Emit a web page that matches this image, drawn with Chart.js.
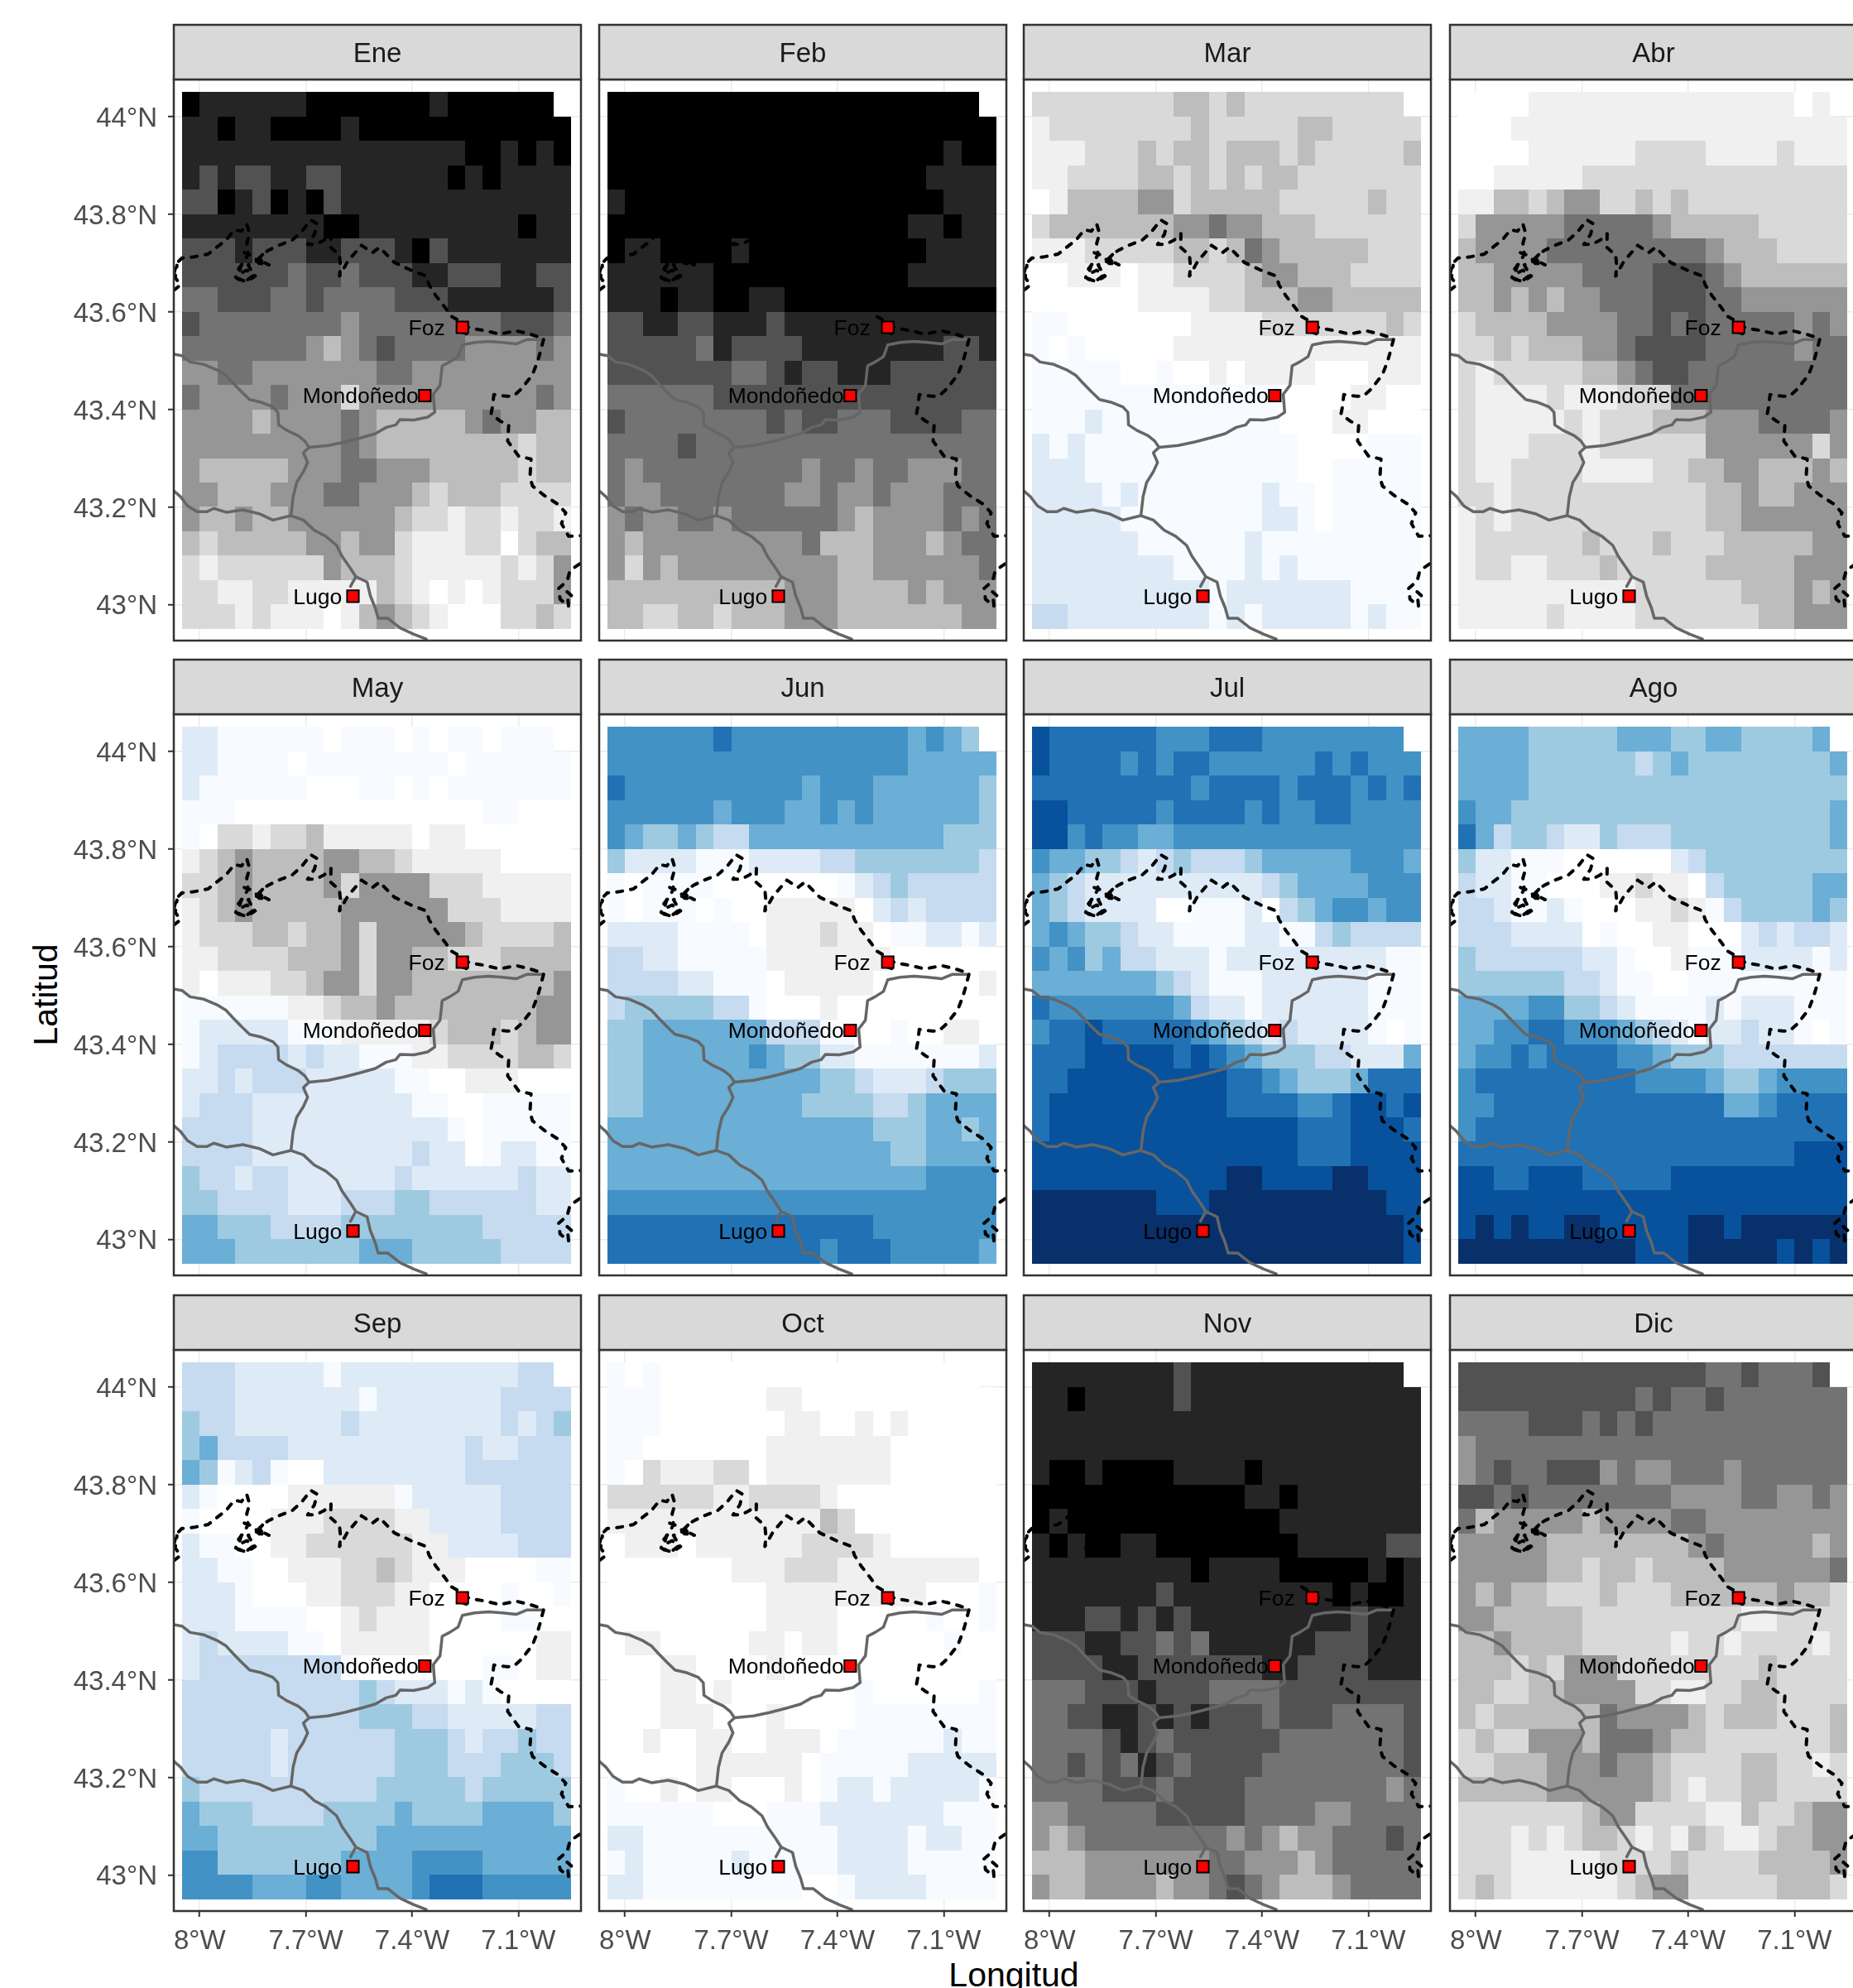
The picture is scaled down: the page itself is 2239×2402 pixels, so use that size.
<!DOCTYPE html>
<html>
<head>
<meta charset="utf-8">
<title>Mapas mensuales</title>
<script src="https://cdn.jsdelivr.net/npm/chart.js@4"></script>
<style>
  html,body{margin:0;padding:0;background:#fff;}
  body{width:2239px;height:2402px;overflow:hidden;position:relative;font-family:"Liberation Sans",Arial,sans-serif;}
  canvas{position:absolute;}
  .eje{position:absolute;font-size:41px;color:#000;white-space:nowrap;line-height:1;}
  #ejeX{left:1225px;top:2366px;transform:translateX(-50%);}
  #ejeY{left:55px;top:1202px;transform:translate(-50%,-50%) rotate(-90deg);}
</style>
</head>
<body>
<div class="eje" id="ejeX">Longitud</div>
<div class="eje" id="ejeY">Latitud</div>
<script>
// niveles de color: 0-8 grises, a-i azules, "." sin dato
const levelKeys = ['0','1','2','3','4','5','6','7','8','a','b','c','d','e','f','g','h','i'];
const levelColors = ['#000000','#252525','#525252','#737373','#969696','#BDBDBD','#D9D9D9','#F0F0F0','#FFFFFF',
  '#F7FBFF','#DEEBF7','#C6DBEF','#9ECAE1','#6BAED6','#4292C6','#2171B5','#08519C','#08306B'];

const meses = ['Ene','Feb','Mar','Abr','May','Jun','Jul','Ago','Sep','Oct','Nov','Dic'];

const xTicks = [-8,-7.7,-7.4,-7.1];
const xTickLabels = ['8°W','7.7°W','7.4°W','7.1°W'];
const yTicks = [43,43.2,43.4,43.6,43.8,44];
const yTickLabels = ['43°N','43.2°N','43.4°N','43.6°N','43.8°N','44°N'];

// rejilla de 0.05 grados, primera fila = norte
const gridWest = -8.05, gridNorth = 44.05, cellDeg = 0.05;

const ene = ["011111100000001000000.","1101100001000000000000","1111111111111111001010","1212211221111110101111","2201201021111111111111","1111111100111111111011","2221222112221021111111","2222223223222112221122","3322233233332221111112","2333333334333333332223","3333333454323333444434","4433444444433444444444","3444434446444444444434","4444544443455555434455","4444444443455555555655","4555554443344455555655","4455544433444565556666","4554554444445667667667","5655555445446777668655","6766666645556777776764","6677667777756787876664","6667677787545678886656"];
const feb = ["000000000000000000000.","0000000000000000000000","0000000000000000000100","0000000000000000001111","1000000000000000000111","0000000000000000011011","0110000100000000001111","1111110000000000011111","1110110011000000000000","2211221112111111111111","2222231222211111111221","2222222332122111222222","3333332222222222222222","2333333332322333222233","3333233333333333333333","3433333333343343344433","3443333333443443444333","4344334333333454444343","4544444444435554445433","4645444444444554444443","5555555555444555545444","5566556555444555555544"];
const mar = ["666666665565666666666.","7666666665666665566666","7776665655655565666665","7766665565656556666666","8755554465555566666566","6555555544344555666666","7776666655653455555666","8877787766665445556666","8888887777665554455555","aa88888887777666666656","a8a8888877777777777777","aaaaa88a88787777888777","aaaaaaaaaaaaaa88887788","aaabaaaaaaaaaa88877888","babaaaaaaaaaaaa8888aaa","bbbaaaaaaaaaaaa88aaaaa","bbbbabaaaaaaabaa8aaaaa","bbbbbaaaaaaaabba8aaaaa","bbbbbbaaaaaabaaaaaaaaa","bbbbbbbbaaaababaaaaaaa","bbbbbbbbbbabbbbbbbaaaa","ccbbbbbbbbababbbbbabaa"];
const abr = ["888877777777777777787.","8887777777777777777777","8888777777666677776777","8877777666666666666666","7755654466565666666666","6444443333345555566666","5444433333333345556666","5544444333322234555555","5545454433322233444444","6555544443323233333434","6656555443222233333433","6766666554322333333333","6777767776663333333333","6777776766655544433334","6777666766666644444464","6776666777766554455545","6676666666666655455444","7676666666666655444444","7666666566656665555544","7667766656666655555444","7777777777666666555454","7777767777666666655444"];
const may = ["bbaaaaaa8aaa8a8aa8aaa.","bbaaaa8aaaaaaaa8aaaaaa","baaaaaa888aa8a8aaaaaaa","aaa88888888888888aa888","a866766577777877888888","7654555544556777778888","6654555546444466677777","7654555554444446667777","7666556554644444566665","7766665554644556665555","7877766544644555555554","aaaaaa7765545555555544","abbbbbaaa7777765556544","abccccbcbbaaa776666556","bbcbcccbbbbbaa88777888","bcccbbbbbbbbbaa88aaaaa","ccccbbbbbbbbbbba8aaaaa","ccccbbbbbbbbbcbb8abbaa","dccbccbbbbbbcbbbbbbcbb","ddccccbbbcccddccccccbb","eedddccccddddddddccccc","eeedddddddeeedddddcccc"];
const jun = ["ffffffgffffffffffefed.","fffffffffffffffffeeeee","gffffffffffefffeeeeeed","ffffffefffeefefeeeeeed","feddedcceeeeeeeeeeeddd","dbbbbaaabbbbccdddddddc","a8aaaa8888888abcdccccc","a8aaa8a88777778bcbcccc","bbbbaaaa87776778aabbab","ccbbaaaaa7777777888888","ccccbbaaa8777778888887","cdddddcca8887888888888","ddeeeeeeecccaa88a88778","ddeeeeeefeddbbaaaaaaab","ddeeeeeeeeeeddcbbbcddd","ddeeeeeeeeeddddccdeeee","eeeeeeeeeeeeeeedddeede","eeeeeeeeeeeeeeeeddeeee","eeeeeeeeeeeeeeeeeeffff","ffffffffffffffffffffff","gggggggggggggggfffffff","ggggggggggggfgggfffffe"];
const jul = ["hggggggfffgggffffffff.","hggggfgfggffffffgfgfff","gggggggggfggggfgggfgfg","hhgggggfggggfgffggffff","hhfgffeeffffffffffffff","feeddcbcdcccdeeeeefffe","edcbbbbbbbbbbcdeeeefff","edcbbbb88aaab8cdeffeff","efeddcbbaaaabbaacdcccc","fefdeccbbbabbbbbbbbbaa","eeeeeeedcbaaabbbbbbaaa","gfffffffecbbabbbbbbaaa","fgghgggggfedcbcbbbba8a","ggghhhhhghgfedddccbbbe","gghhhhhhhhhggfedddeggg","ghhhhhhhhhhggggffghhgh","ghhhhhhhhhhhhhhggghhhg","hhhhhhhhhhhhhhhggghhhh","hhhhhhhhhhhiihhhhiihhh","iiiiiiihhhiiiiiiiiiihh","iiiiiiiiiiiiiiiiiiiiih","iiiiiiiiiiiiiiiiiiiiih"];
const ago = ["eeeedddddeeeddeedddde.","eeeeddddddcdedddddddde","eeeedddddddddddddddddd","feedddddddddddddddddde","gecddcbbdcccddddddddde","dbbaaa888888bcdddddddd","cbbaa888776778cdddddee","ccbaaba8887767acdddded","cccbbbb8a8877888bcbccb","dccccccbba887aaabbbbab","ddddddccbaa88aaaaaaaaa","eeeeffddcbaaaababbbaaa","eeffggfffedcbabbcbba8a","effgfggggffedddccccccc","fgggggggggffffeddeffff","ffgggggggggggggeefgggg","fggggggggggggggggggggg","ggggggggggggggggggghhh","hhgghhhggggghhhhhhhhhh","hhhhhhhhhhhhhhhhhhhhhh","hihihhiihhhhhiihiiiiii","iiiiiiiiiihhhiiiiihihi"];
const sep = ["cccbbbbbabbbbbbbbbbcc.","cccbbbbbbbabbbbbbbcccc","dccbbbbbbcbbbbbbbbcbcd","deccccbbbbbbbbbbcbbccc","edabca88bbbbbbbbcccccc","ba8888777777abbbbbcccc","a8888777666677bbbbcccc","baa887766666677bbbbccc","bbaa8877766567778888aa","bbba88877666778888a88a","bbbaaaa88767778888aa88","bcbbbbaa87777788888877","bcccccccca8888888aa877","ccccccccccdcbbbaba8888","ccccccccccdddccbbbbbcc","cccccbccccccdddcbccdcc","cccccbccccccdddcccdddc","dccccccccccdddddcddddd","edddccccddddeddddeeeed","eedddddddddeeeeeeeeeee","ffdddddddeeeeffffeeeee","ffffeeeffeeeefgggfffff"];
const oct = ["a8a888888888888888888.","aaa8888887788888888888","aaa8888888778878788888","aa88888887777777888888","a867776687777777888888","6666667766667888888888","7777777777775688888888","8777877777766667888888","8888888777666777777778","888888888777777777888a","888888888777788888a88a","8778888877877888888a88","8887788887888888888888","88877878888888a888888a","88877788878888aaaaaaaa","8878877887778aaaaaabaa","888887777778aaaaabbbbb","a88787788878abbabbbbba","aaaaaa888aaabbbbbbbaaa","bbaaaaaaaaaaabbbbabbaa","abaaaaabaaaaabbbbaaaaa","bbaaaaaaaaa88abbbbaaaa"];
const nov = ["111111112111111111111.","1101111121111111111111","1111111111111111111111","1111111111111111111111","1001000011110111111111","0000000000001101111111","0100000000000011111111","1010011000000001111122","1111111110111100000101","1111111211111111101001","1112212121111111112111","2221122323111111222111","2222112222222112222111","3332221222333322222222","3322112121222322233332","3333212322222233333332","3323231232222333333332","3333222322223333333343","4433333222223333443333","4543333333343454433323","5554444444334445433333","4554444544323455543333"];
const dic = ["222222222222223323332.","2222222222323323333333","3333222323233333333333","4333333333333333333333","4323322243443334333333","2232333333334444334434","3544444544443344444444","4444455555555434444454","4444455655655554444443","4545566656665555554556","4455555666666666776666","5545555666667667666676","5556564446666666656666","5566554444667766556666","5655555534444565556665","6566444533345566666665","6655544434456666556676","5555544444456766556666","6666666544666677566544","6667676556767567765544","6667777766665666655554","6567777776544666665556"];
const paneles = [ene,feb,mar,abr,may,jun,jul,ago,sep,oct,nov,dic];

// carreteras
const roadA = [[-8.073,43.513],[-8.05,43.51],[-8.027,43.497],[-7.988,43.492],[-7.952,43.481],[-7.925,43.469],[-7.906,43.454],[-7.882,43.436],[-7.859,43.42],[-7.824,43.414],[-7.793,43.405],[-7.779,43.394],[-7.777,43.368],[-7.754,43.357],[-7.722,43.346],[-7.703,43.335],[-7.691,43.322]];
const roadB = [[-7.691,43.322],[-7.637,43.326],[-7.59,43.333],[-7.543,43.342],[-7.504,43.35],[-7.473,43.363],[-7.446,43.368],[-7.434,43.379],[-7.395,43.378],[-7.356,43.384],[-7.336,43.394],[-7.339,43.42],[-7.34,43.431],[-7.321,43.449],[-7.315,43.489],[-7.294,43.497],[-7.27,43.508],[-7.258,43.532],[-7.223,43.537],[-7.184,43.539],[-7.145,43.537],[-7.106,43.534],[-7.075,43.543],[-7.032,43.543]];
const roadC = [[-7.691,43.322],[-7.707,43.311],[-7.695,43.291],[-7.707,43.272],[-7.726,43.25],[-7.736,43.221],[-7.742,43.182]];
const roadD = [[-8.073,43.233],[-8.054,43.221],[-8.034,43.202],[-8.007,43.19],[-7.98,43.19],[-7.96,43.197],[-7.925,43.189],[-7.878,43.194],[-7.832,43.186],[-7.793,43.173],[-7.742,43.182],[-7.707,43.173],[-7.676,43.152],[-7.644,43.14],[-7.613,43.121],[-7.598,43.099],[-7.574,43.074],[-7.559,43.057],[-7.527,43.046],[-7.518,43.018],[-7.504,42.993],[-7.496,42.972],[-7.469,42.972],[-7.434,42.952],[-7.395,42.939],[-7.36,42.929]];
const roadE = [[-7.559,43.057],[-7.574,43.037]];
const roads = [roadA,roadB,roadC,roadD,roadE];

// limite (linea discontinua)
const limiteMain = [[-8.073,43.677],[-8.065,43.699],[-8.05,43.71],[-8.019,43.712],[-7.976,43.718],[-7.952,43.732],[-7.925,43.747],[-7.902,43.768],[-7.882,43.765],[-7.867,43.78],[-7.859,43.76],[-7.867,43.74],[-7.863,43.718],[-7.874,43.703],[-7.89,43.688],[-7.898,43.67],[-7.871,43.662],[-7.847,43.675],[-7.863,43.696],[-7.839,43.703],[-7.816,43.696],[-7.832,43.71],[-7.808,43.725],[-7.777,43.736],[-7.738,43.747],[-7.711,43.765],[-7.686,43.788],[-7.668,43.78],[-7.676,43.758],[-7.695,43.738],[-7.672,43.738],[-7.648,43.747],[-7.629,43.76],[-7.63,43.732],[-7.605,43.716],[-7.602,43.692],[-7.605,43.673],[-7.582,43.703],[-7.543,43.736],[-7.512,43.721],[-7.492,43.732],[-7.473,43.718],[-7.45,43.701],[-7.403,43.685],[-7.36,43.673],[-7.352,43.655],[-7.333,43.633],[-7.305,43.607],[-7.29,43.591],[-7.258,43.578],[-7.239,43.567],[-7.192,43.561],[-7.153,43.554],[-7.106,43.561],[-7.067,43.554],[-7.028,43.545],[-7.04,43.512],[-7.046,43.497],[-7.06,43.471],[-7.091,43.442],[-7.114,43.427],[-7.134,43.427],[-7.169,43.43],[-7.173,43.405],[-7.177,43.39],[-7.149,43.375],[-7.127,43.368],[-7.13,43.335],[-7.099,43.304],[-7.064,43.298],[-7.067,43.261],[-7.06,43.243],[-7.028,43.224],[-6.989,43.206],[-6.966,43.188],[-6.978,43.166],[-6.958,43.14],[-6.923,43.141]];
const limiteSE = [[-6.927,43.083],[-6.954,43.07],[-6.962,43.048],[-6.986,43.033],[-6.982,43.011],[-6.958,42.996],[-6.962,43.026],[-6.939,43.011]];
const limiteW = [[-8.073,43.644],[-8.054,43.655],[-8.069,43.67],[-8.064,43.695]];
const limiteRia1 = [[-7.874,43.721],[-7.847,43.714],[-7.832,43.699],[-7.804,43.696],[-7.835,43.707],[-7.812,43.725]];
const limiteRia2 = [[-7.882,43.696],[-7.89,43.677],[-7.867,43.685],[-7.843,43.673],[-7.867,43.662],[-7.898,43.668]];
const limiteFoz = [[-7.262,43.559],[-7.243,43.554],[-7.258,43.547]];
const limites = [limiteMain,limiteSE,limiteW,limiteRia1,limiteRia2,limiteFoz];

const ciudades = ['Foz','Mondoñedo','Lugo'];
const ciudadLon = [-7.258,-7.364,-7.567];
const ciudadLat = [43.568,43.428,43.017];
const etiquetaLon = [-7.307,-7.382,-7.598]; // donde termina el texto

const xMin = -8.073, xMax = -6.923, yMin = 42.926, yMax = 44.076;

// colocacion de los paneles en la pagina
const panelLefts = [210,724,1237,1752];
const panelTops = [96,863,1631];
const panelW = 492, panelH = 678, stripH = 66;

Chart.defaults.font.family = '"Liberation Sans", Arial, sans-serif';

const colorOf = {};
levelKeys.forEach((k,i)=>{ colorOf[k] = levelColors[i]; });

function toPts(arr){ return arr.map(p=>({x:p[0],y:p[1]})); }
function noPadding(s){ s.paddingLeft = s.paddingRight = s.paddingTop = s.paddingBottom = 0; }

const rasterPlugin = {
  id:'raster',
  beforeDatasetsDraw(chart, args, opts){
    const {ctx, scales:{x,y}} = chart;
    ctx.save();
    opts.rows.forEach((row,r)=>{
      for(let c=0;c<row.length;c++){
        const col = colorOf[row[c]];
        if(!col) continue;
        const x0 = Math.round(x.getPixelForValue(gridWest + c*cellDeg));
        const x1 = Math.round(x.getPixelForValue(gridWest + (c+1)*cellDeg));
        const y0 = Math.round(y.getPixelForValue(gridNorth - r*cellDeg));
        const y1 = Math.round(y.getPixelForValue(gridNorth - (r+1)*cellDeg));
        ctx.fillStyle = col;
        ctx.fillRect(x0,y0,x1-x0,y1-y0);
      }
    });
    ctx.restore();
  }
};

const framePlugin = {
  id:'frame',
  afterDatasetsDraw(chart, args, opts){
    const {ctx, chartArea:a, scales:{x,y}} = chart;
    ctx.save();
    // nombres de ciudad
    ctx.fillStyle = '#000';
    ctx.font = '26.5px "Liberation Sans", Arial, sans-serif';
    ctx.textAlign = 'right';
    ctx.textBaseline = 'middle';
    ciudades.forEach((n,i)=>{
      ctx.fillText(n, x.getPixelForValue(etiquetaLon[i]), y.getPixelForValue(ciudadLat[i])+2);
    });
    // borde del panel y tira del mes
    ctx.strokeStyle = '#333333';
    ctx.lineWidth = 2.5;
    ctx.strokeRect(a.left,a.top,a.right-a.left,a.bottom-a.top);
    ctx.fillStyle = '#D9D9D9';
    ctx.fillRect(a.left,a.top-stripH,a.right-a.left,stripH);
    ctx.strokeRect(a.left,a.top-stripH,a.right-a.left,stripH);
    ctx.fillStyle = '#1A1A1A';
    ctx.font = '33px "Liberation Sans", Arial, sans-serif';
    ctx.textAlign = 'center';
    ctx.fillText(opts.title,(a.left+a.right)/2,a.top-stripH/2+3);
    ctx.restore();
  }
};

paneles.forEach((rows,i)=>{
  const col = i%4, fila = Math.floor(i/4);
  const isLeft = col===0, isBottom = fila===2;
  const mL = isLeft ? 210 : 3, mR = 3, mT = stripH+3, mB = isBottom ? 62 : 3;

  const canvas = document.createElement('canvas');
  canvas.width = mL+panelW+mR;
  canvas.height = mT+panelH+mB;
  canvas.style.left = (panelLefts[col]-mL)+'px';
  canvas.style.top = (panelTops[fila]-mT)+'px';
  document.body.appendChild(canvas);

  const datasets = [{
    data: ciudades.map((n,k)=>({x:ciudadLon[k],y:ciudadLat[k]})),
    showLine:false, pointStyle:'rect', pointRadius:10,
    backgroundColor:'#FF0000', borderColor:'#000', borderWidth:2, pointBorderWidth:2
  }];
  limites.forEach(l=>datasets.push({
    data:toPts(l), showLine:true, pointRadius:0, borderColor:'#000', borderWidth:4,
    borderDash:[7,10], borderCapStyle:'round', borderJoinStyle:'round', tension:0
  }));
  roads.forEach(l=>datasets.push({
    data:toPts(l), showLine:true, pointRadius:0, borderColor:'#666666', borderWidth:3.5,
    borderCapStyle:'round', borderJoinStyle:'round', tension:0
  }));

  new Chart(canvas.getContext('2d'),{
    type:'scatter',
    data:{datasets},
    plugins:[rasterPlugin,framePlugin],
    options:{
      responsive:false, animation:false, devicePixelRatio:1,
      layout:{autoPadding:false,padding:{left:0,right:mR,top:mT,bottom:0}},
      plugins:{legend:{display:false},tooltip:{enabled:false},raster:{rows},frame:{title:meses[i]}},
      scales:{
        x:{
          type:'linear', min:xMin, max:xMax,
          afterBuildTicks(s){ s.ticks = xTicks.map(v=>({value:v})); },
          afterFit(s){ s.height = mB; noPadding(s); },
          ticks:{display:isBottom,autoSkip:false,maxRotation:0,color:'#4D4D4D',font:{size:33},padding:10,callback:(v,k)=>xTickLabels[k]},
          grid:{color:'#EBEBEB',lineWidth:1.5,drawTicks:isBottom,tickLength:7,tickColor:'#333333',tickWidth:2},
          border:{display:false}
        },
        y:{
          type:'linear', min:yMin, max:yMax,
          afterBuildTicks(s){ s.ticks = yTicks.map(v=>({value:v})); },
          afterFit(s){ s.width = mL; noPadding(s); },
          ticks:{display:isLeft,autoSkip:false,color:'#4D4D4D',font:{size:33},padding:13,labelOffset:3,callback:(v,k)=>yTickLabels[k]},
          grid:{color:'#EBEBEB',lineWidth:1.5,drawTicks:isLeft,tickLength:7,tickColor:'#333333',tickWidth:2},
          border:{display:false}
        }
      }
    }
  });
});
</script>
</body>
</html>
